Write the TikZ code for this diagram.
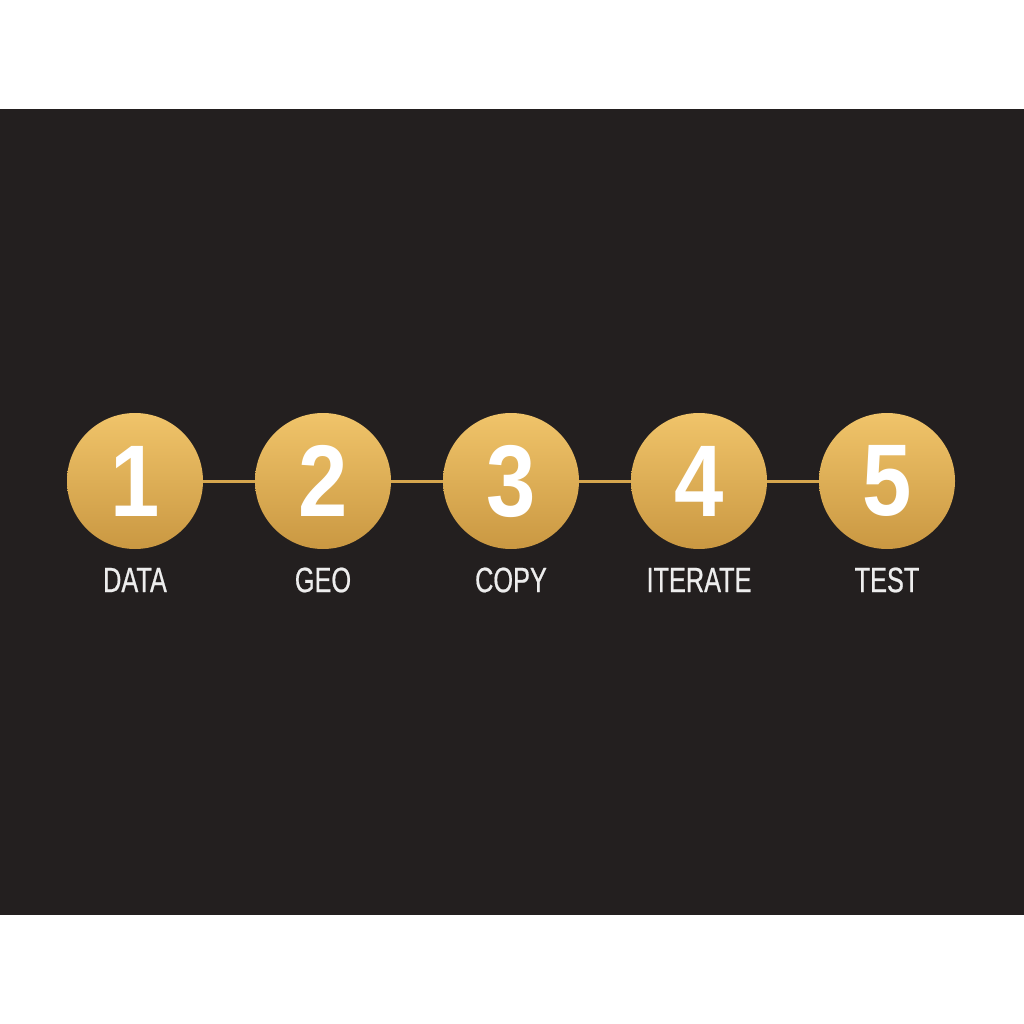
\documentclass[tikz,border=0pt]{standalone}
\usepackage{fontspec}
\newfontfamily\digitfont[FakeStretch=0.87]{Liberation Sans}
\newfontfamily\labelfont[FakeStretch=0.72,FakeBold=0.6]{Liberation Sans}
\definecolor{bgdark}{RGB}{35,31,31}
\definecolor{goldtop}{RGB}{240,196,106}
\definecolor{goldbot}{RGB}{202,152,66}
\definecolor{goldline}{RGB}{214,166,78}
\newlength{\px}
\setlength{\px}{0.02cm}
\tikzset{
  stepcircle/.style={circle, minimum size=136\px, inner sep=0pt, top color=goldtop, bottom color=goldbot,
     font=\digitfont\bfseries\fontsize{58}{58}\selectfont, text=white},
  steplabel/.style={font=\labelfont\fontsize{20}{20}\selectfont, text=white!93!black, inner sep=0pt},
  link/.style={draw=goldline, line width=3\px}
}
\begin{document}
\begin{tikzpicture}[x=0.02cm,y=-0.02cm]
\fill[white] (0,0) rectangle (1024,1024);
\fill[bgdark] (0,109) rectangle (1024,915);
\useasboundingbox (0,0) rectangle (1024,1024);
\foreach \i/\x/\t in {1/135/DATA,2/323/GEO,3/511/COPY,4/699/ITERATE,5/887/TEST}{
  \node[stepcircle] (c\i) at (\x,481) {\i};
  \node[steplabel] (l\i) at (\x,580) {\t};
}
\foreach \a/\b in {1/2,2/3,3/4,4/5}{
  \draw[link] (c\a.east) -- (c\b.west);
}
\end{tikzpicture}
\end{document}
